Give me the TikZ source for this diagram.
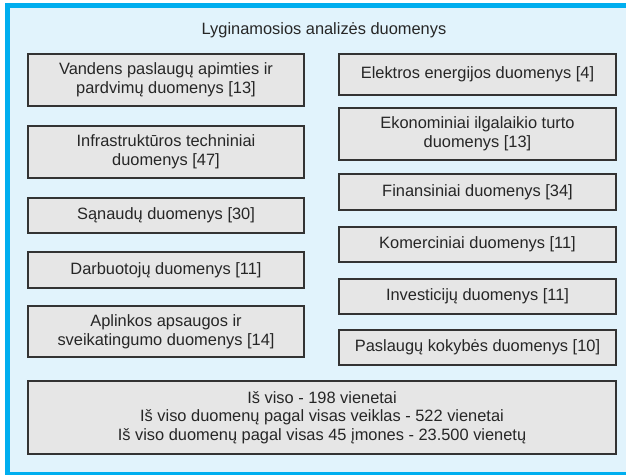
\documentclass[tikz,border=0pt]{standalone}
\usepackage{fontspec}
\setmainfont{Liberation Sans}
\definecolor{framecyan}{HTML}{00AEEF}
\definecolor{panelblue}{HTML}{E1F3FC}
\definecolor{boxgray}{HTML}{E6E6E6}
\definecolor{edgegray}{HTML}{333333}

\begin{document}
\begin{tikzpicture}[x=0.75pt,y=-0.75pt]

\tikzset{databox/.style = {shape=rectangle, draw=edgegray, fill=boxgray, line width=1.5pt, align=center, inner sep=0pt, text=black!85, font=\fontsize{12.3}{14}\selectfont}}
\tikzset{leftbox/.style = {databox, minimum width=207pt}}
\tikzset{rightbox/.style = {databox, minimum width=207.75pt}}
%frame
\useasboundingbox (0,0) rectangle (626,475);
\clip (0,0) rectangle (626,475);
\fill[white] (0,0) rectangle (626,475);
\draw[draw=framecyan, fill=panelblue, line width=3.75pt] (7.8,5) rectangle (650,474.2);
%title
\node[text=black!85, font=\fontsize{12.3}{14}\selectfont] (title) at (324,30.7) {Lyginamosios analizės duomenys};
%left column
\node[leftbox, minimum height=39pt] (vanduo) at (166,80) {Vandens paslaugų apimties ir\\pardvimų duomenys [13]};
\node[leftbox, minimum height=39pt] (infra) at (166,152) {Infrastruktūros techniniai\\duomenys [47]};
\node[leftbox, minimum height=26.25pt] (sanaudos) at (166,215.5) {Sąnaudų duomenys [30]};
\node[leftbox, minimum height=27pt] (darbuot) at (166,270) {Darbuotojų duomenys [11]};
\node[leftbox, minimum height=38.25pt] (aplinka) at (166,331.5) {Aplinkos apsaugos ir\\sveikatingumo duomenys [14]};
%right column
\node[rightbox, minimum height=30.75pt] (elektra) at (477.5,74.5) {Elektros energijos duomenys [4]};
\node[rightbox, minimum height=39pt] (ekonom) at (477.5,134) {Ekonominiai ilgalaikio turto\\duomenys [13]};
\node[rightbox, minimum height=27pt] (finans) at (477.5,192) {Finansiniai duomenys [34]};
\node[rightbox, minimum height=26.25pt] (komerc) at (477.5,244.5) {Komerciniai duomenys [11]};
\node[rightbox, minimum height=26.25pt] (invest) at (477.5,296.5) {Investicijų duomenys [11]};
\node[rightbox, minimum height=26.25pt] (kokybe) at (477.5,347.5) {Paslaugų kokybės duomenys [10]};
%totals
\node[databox, minimum width=441pt, minimum height=54.75pt] (viso) at (322,417.5) {Iš viso - 198 vienetai\\Iš viso duomenų pagal visas veiklas - 522 vienetai\\Iš viso duomenų pagal visas 45 įmones - 23.500 vienetų};

\end{tikzpicture}
\end{document}
